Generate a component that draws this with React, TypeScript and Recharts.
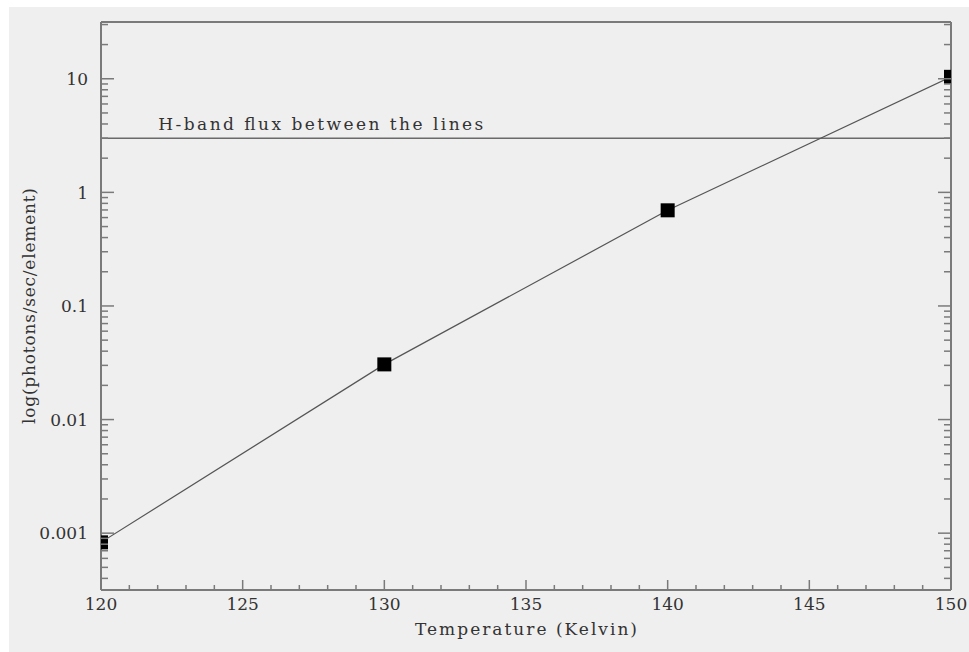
import React from 'react';
import { ComposedChart, Line, XAxis, YAxis, ReferenceLine } from 'recharts';

// ---- data ----
const TEMPERATURES = [120, 130, 140, 150];
const FLUX = [0.00083, 0.0306, 0.695, 10.4];
const H_BAND_LIMIT = 3;
const H_BAND_TEXT = 'H-band flux between the lines';
const X_TITLE = 'Temperature (Kelvin)';
const Y_TITLE = 'log(photons/sec/element)';

const X_DOMAIN = [120, 150];
const Y_DOMAIN = [0.000316, 31.6];
const X_MAJOR_TICKS = [120, 125, 130, 135, 140, 145, 150];
const X_MINOR_TICKS = [
  121, 122, 123, 124, 126, 127, 128, 129, 131, 132, 133, 134,
  136, 137, 138, 139, 141, 142, 143, 144, 146, 147, 148, 149,
];
const Y_MAJOR_TICKS = [0.001, 0.01, 0.1, 1, 10];
const Y_MAJOR_LABELS = ['0.001', '0.01', '0.1', '1', '10'];
const Y_MINOR_TICKS = [
  0.0004, 0.0005, 0.0006, 0.0007, 0.0008, 0.0009,
  0.002, 0.003, 0.004, 0.005, 0.006, 0.007, 0.008, 0.009,
  0.02, 0.03, 0.04, 0.05, 0.06, 0.07, 0.08, 0.09,
  0.2, 0.3, 0.4, 0.5, 0.6, 0.7, 0.8, 0.9,
  2, 3, 4, 5, 6, 7, 8, 9,
  20, 30,
];

const data = TEMPERATURES.map((t, i) => ({ temp: t, flux: FLUX[i] }));
const X_TICKS = [...X_MAJOR_TICKS, ...X_MINOR_TICKS].sort((a, b) => a - b);
const Y_TICKS = [...Y_MAJOR_TICKS, ...Y_MINOR_TICKS].sort((a, b) => a - b);

// ---- styles ----
const FONT = '"DejaVu Serif", serif';
const TEXT = '#333333';
const FRAME = '#7a7a7a';
const FONT_SIZE = 17;

const yLabel = (v: number) => {
  const i = Y_MAJOR_TICKS.indexOf(v);
  return i >= 0 ? Y_MAJOR_LABELS[i] : '';
};

const BottomTick = (props: any) => {
  const { x, y, payload } = props;
  const major = X_MAJOR_TICKS.includes(payload.value);
  return (
    <g>
      <line x1={x} x2={x} y1={y} y2={y - (major ? 10 : 5)} stroke={FRAME} strokeWidth={1.5} />
      {major && (
        <text x={x} y={y + 19.5} textAnchor="middle" fontFamily={FONT} fontSize={FONT_SIZE} fill={TEXT}>
          {String(payload.value)}
        </text>
      )}
    </g>
  );
};

const TopTick = (props: any) => {
  const { x, y, payload } = props;
  const major = X_MAJOR_TICKS.includes(payload.value);
  return <line x1={x} x2={x} y1={y} y2={y + (major ? 10 : 5)} stroke={FRAME} strokeWidth={1.5} />;
};

const LeftTick = (props: any) => {
  const { x, y, payload } = props;
  const major = Y_MAJOR_TICKS.includes(payload.value);
  return (
    <g>
      <line x1={x} x2={x + (major ? 13 : 7)} y1={y} y2={y} stroke={FRAME} strokeWidth={1.5} />
      {major && (
        <text x={x - 13} y={y + 6.2} textAnchor="end" fontFamily={FONT} fontSize={FONT_SIZE} fill={TEXT}>
          {yLabel(payload.value)}
        </text>
      )}
    </g>
  );
};

const RightTick = (props: any) => {
  const { x, y, payload } = props;
  const major = Y_MAJOR_TICKS.includes(payload.value);
  return <line x1={x} x2={x - (major ? 13 : 7)} y1={y} y2={y} stroke={FRAME} strokeWidth={1.5} />;
};

const XTitle = (props: any) => {
  const vb = props.viewBox || { x: 92, y: 583, width: 850, height: 62 };
  return (
    <text
      x={vb.x + vb.width / 2}
      y={vb.y + 45}
      textAnchor="middle"
      fontFamily={FONT}
      fontSize={FONT_SIZE}
      fill={TEXT}
      textLength={222}
      lengthAdjust="spacing"
    >
      {X_TITLE}
    </text>
  );
};

const YTitle = (props: any) => {
  const vb = props.viewBox || { x: 0, y: 15, width: 92, height: 568 };
  const cx = vb.x + 25.5;
  const cy = vb.y + vb.height / 2;
  return (
    <text
      x={cx}
      y={cy}
      transform={`rotate(-90, ${cx}, ${cy})`}
      textAnchor="middle"
      fontFamily={FONT}
      fontSize={FONT_SIZE}
      fill={TEXT}
      textLength={236}
      lengthAdjust="spacing"
    >
      {Y_TITLE}
    </text>
  );
};

const HBandLabel = (props: any) => {
  const vb = props.viewBox || { x: 92, y: 130, width: 850, height: 0 };
  return (
    <text
      x={vb.x + 57.3}
      y={vb.y - 8}
      textAnchor="start"
      fontFamily={FONT}
      fontSize={FONT_SIZE}
      fill={TEXT}
      textLength={325}
      lengthAdjust="spacing"
    >
      {H_BAND_TEXT}
    </text>
  );
};

const SquareDot = (props: any) => {
  const { cx, cy, index } = props;
  if (cx == null || cy == null) return null;
  return <rect key={`dot-${index}`} x={cx - 7} y={cy - 7} width={14} height={14} fill="#000000" />;
};

export default function App() {
  return (
    <div style={{ position: 'fixed', left: 0, top: 0, width: 969, height: 652, background: '#ffffff', overflow: 'hidden' }}>
      <div style={{ position: 'absolute', left: 9, top: 7, width: 960, height: 645, background: '#efefef' }}>
        <ComposedChart
          width={960}
          height={645}
          data={data}
          margin={{ top: 14, right: 17, bottom: 0, left: 0 }}
          style={{ overflow: 'visible' }}
        >
          <XAxis
            xAxisId="bottom"
            dataKey="temp"
            type="number"
            domain={X_DOMAIN}
            allowDataOverflow
            ticks={X_TICKS}
            interval={0}
            tick={BottomTick}
            tickLine={false}
            tickSize={0}
            tickMargin={0}
            height={62}
            axisLine={{ stroke: FRAME, strokeWidth: 2 }}
            label={<XTitle />}
          />
          <XAxis
            xAxisId="top"
            orientation="top"
            type="number"
            domain={X_DOMAIN}
            allowDataOverflow
            ticks={X_TICKS}
            interval={0}
            tick={TopTick}
            tickLine={false}
            tickSize={0}
            tickMargin={0}
            height={1}
            axisLine={{ stroke: FRAME, strokeWidth: 2 }}
          />
          <YAxis
            yAxisId="left"
            type="number"
            scale="log"
            domain={Y_DOMAIN}
            allowDataOverflow
            ticks={Y_TICKS}
            interval={0}
            tick={LeftTick}
            tickLine={false}
            tickSize={0}
            tickMargin={0}
            width={92}
            axisLine={{ stroke: FRAME, strokeWidth: 2 }}
            label={<YTitle />}
          />
          <YAxis
            yAxisId="right"
            orientation="right"
            type="number"
            scale="log"
            domain={Y_DOMAIN}
            allowDataOverflow
            ticks={Y_TICKS}
            interval={0}
            tick={RightTick}
            tickLine={false}
            tickSize={0}
            tickMargin={0}
            width={1}
            axisLine={{ stroke: FRAME, strokeWidth: 2 }}
          />
          <ReferenceLine
            xAxisId="bottom"
            yAxisId="left"
            y={H_BAND_LIMIT}
            stroke="#6a6a6a"
            strokeWidth={1.5}
            label={<HBandLabel />}
          />
          <Line
            xAxisId="bottom"
            yAxisId="left"
            type="linear"
            dataKey="flux"
            stroke="#555555"
            strokeWidth={1.2}
            dot={SquareDot}
            activeDot={false}
            isAnimationActive={false}
          />
        </ComposedChart>
      </div>
    </div>
  );
}
